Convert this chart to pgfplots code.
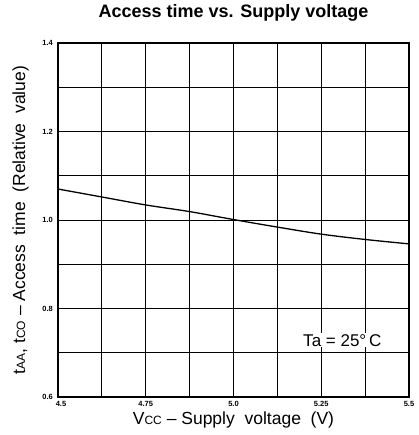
\documentclass[border=0pt]{standalone}
\usepackage{fontspec}
\setmainfont{Liberation Sans}
\usepackage{pgfplots}
\pgfplotsset{compat=1.18}
\begin{document}
\begin{tikzpicture}
\begin{axis}[
  scale only axis,
  width=351pt, height=354pt,
  xmin=4.5, xmax=5.5, ymin=0.6, ymax=1.4,
  xtick={4.5,4.75,5,5.25,5.5},
  xticklabels={\hspace{6pt}4.5,4.75,5.0,5.25,5.5},
  minor xtick={4.625,4.875,5.125,5.375},
  ytick={0.6,0.8,1.0,1.2,1.4},
  yticklabels={0.6,0.8,1.0,1.2,1.4},
  minor ytick={0.7,0.9,1.1,1.3},
  grid=both,
  major grid style={black, line width=0.8pt},
  minor grid style={black, line width=0.8pt},
  major tick length=0pt, minor tick length=0pt,
  axis line style={black, line width=1.6pt},
  tick label style={font=\fontsize{7.5}{8}\selectfont\bfseries},
  xticklabel style={anchor=north, inner sep=0pt, yshift=-4pt},
  yticklabel style={anchor=east, inner sep=0pt, xshift=-5pt},
  title={\bfseries Access time vs. Supply voltage},
  title style={font=\fontsize{18}{20}\selectfont, at={(axis description cs:0.5,1.0537)}, anchor=base},
  xlabel={V{\fontsize{12}{14}\selectfont CC} -- Supply\ \ voltage\ \ (V)},
  xlabel style={font=\fontsize{17.5}{20}\selectfont, at={(axis description cs:0.5,-0.0763)}, anchor=base},
  ylabel={t{\fontsize{12}{14}\selectfont AA}, t{\fontsize{12}{14}\selectfont CO} -- Access\ \ time\ \ (Relative\ \ value)},
  ylabel style={font=\fontsize{17.5}{20}\selectfont, at={(axis description cs:-0.094,0.5)}, anchor=base},
]
\addplot[black, line width=1.3pt, smooth] coordinates {
  (4.5,1.070) (4.625,1.052) (4.75,1.034) (4.875,1.019) (5.0,1.001)
  (5.125,0.984) (5.25,0.968) (5.375,0.956) (5.5,0.946)
};
\node[font=\fontsize{17}{20}\selectfont, fill=white, inner sep=1pt] at (axis cs:5.31,0.728) {Ta = 25\textdegree\,C};
\end{axis}
\pgfresetboundingbox
\path ([shift={(-58pt,-38pt)}]current axis.south west) rectangle ([shift={(9pt,43pt)}]current axis.north east);
\end{tikzpicture}
\end{document}
